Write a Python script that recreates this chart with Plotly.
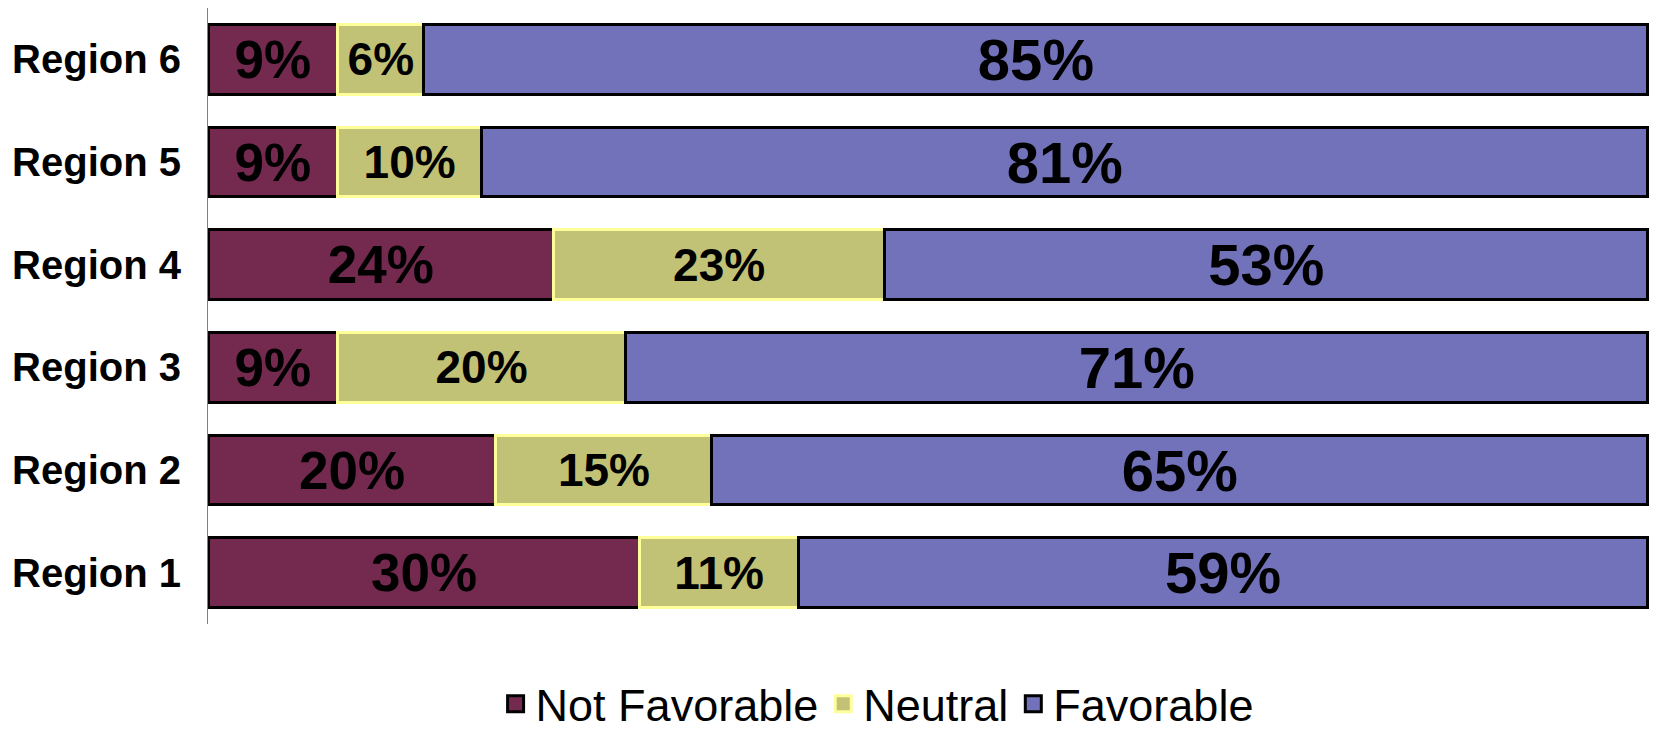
import plotly.graph_objects as go

regions = ["Region 1", "Region 2", "Region 3", "Region 4", "Region 5", "Region 6"]
not_favorable = [30, 20, 9, 24, 9, 9]
neutral = [11, 15, 20, 23, 10, 6]
favorable = [59, 65, 71, 53, 81, 85]

series = [
    ("Not Favorable", not_favorable, "#74294f", "#000000", 53),
    ("Neutral", neutral, "#c2c276", "#ffff99", 46),
    ("Favorable", favorable, "#7272bb", "#000000", 58),
]

FONT = "Liberation Sans, Arial, sans-serif"

fig = go.Figure()
for name, vals, color, line_color, tsize in series:
    fig.add_trace(go.Bar(
        name=name,
        y=regions,
        x=vals,
        orientation="h",
        marker=dict(color=color, line=dict(color=line_color, width=3)),
        text=[f"{v}%" for v in vals],
        textposition="inside",
        insidetextanchor="middle",
        constraintext="none",
        textangle=0,
        textfont=dict(family=FONT, size=tsize, color="black", weight="bold"),
        hoverinfo="skip",
        showlegend=False,
    ))

# legend entries (no data points) with larger square swatches
for name, vals, color, line_color, tsize in series:
    fig.add_trace(go.Scatter(
        name=name,
        x=[None], y=[None],
        mode="markers",
        marker=dict(symbol="square", size=24, color=color,
                    line=dict(color=line_color, width=3)),
        showlegend=True,
        hoverinfo="skip",
    ))

fig.update_layout(
    barmode="stack",
    bargap=0.32,
    width=1650,
    height=722,
    margin=dict(l=200, r=8, t=0, b=106),
    paper_bgcolor="white",
    plot_bgcolor="white",
    font=dict(family=FONT, color="black"),
    showlegend=True,
    legend=dict(
        orientation="h",
        xanchor="center",
        x=0.464,
        yref="container",
        yanchor="middle",
        y=0.036,
        font=dict(family=FONT, size=45, color="black"),
        traceorder="normal",
        itemsizing="trace",
        itemwidth=30,
    ),
    xaxis=dict(range=[0, 100.15], showgrid=False, zeroline=False,
               showticklabels=False, showline=False, ticks="",
               automargin=False),
    yaxis=dict(showgrid=False, zeroline=False, showline=True,
               linecolor="#808080", linewidth=1, ticks="",
               ticklabelstandoff=18, automargin=False,
               tickfont=dict(family=FONT, size=40, color="black", weight="bold")),
)

fig.write_html("out.html")
